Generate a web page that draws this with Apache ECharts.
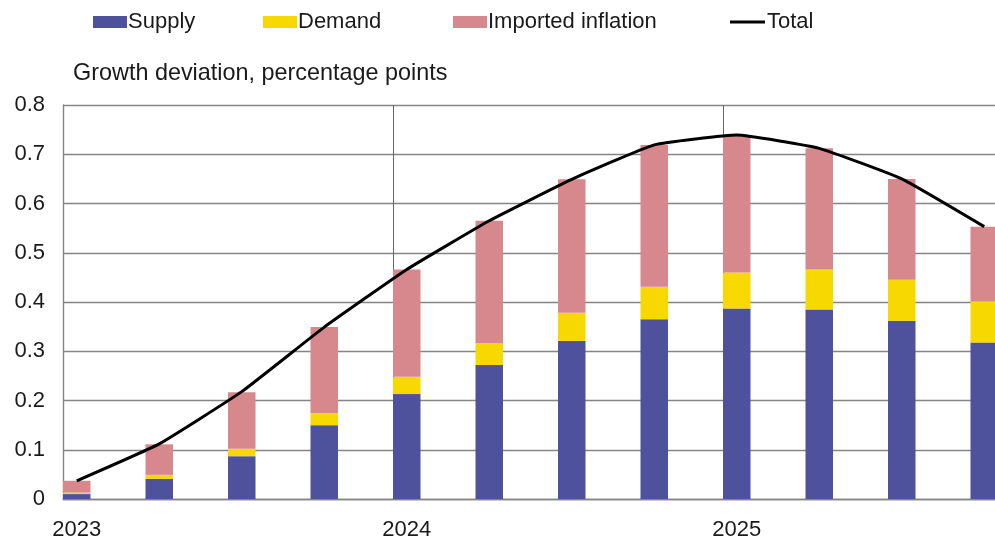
<!DOCTYPE html>
<html>
<head>
<meta charset="utf-8">
<script src="https://cdn.jsdelivr.net/npm/echarts@6/dist/echarts.min.js"></script>
<style>
html,body{margin:0;padding:0;background:#fff;}
#chart{width:995px;height:538px;}
</style>
</head>
<body>
<div id="chart"></div>
<script>
// Quarterly periods 2023Q1 .. 2025Q4
const categories = ['2023Q1','2023Q2','2023Q3','2023Q4','2024Q1','2024Q2','2024Q3','2024Q4','2025Q1','2025Q2','2025Q3','2025Q4'];
const supply   = [0.010, 0.041, 0.087, 0.150, 0.213, 0.272, 0.321, 0.365, 0.387, 0.385, 0.362, 0.318];
const demand   = [0.003, 0.008, 0.015, 0.024, 0.035, 0.045, 0.057, 0.066, 0.073, 0.081, 0.083, 0.083];
const imported = [0.024, 0.062, 0.115, 0.175, 0.218, 0.248, 0.271, 0.288, 0.277, 0.246, 0.205, 0.152];
const total    = [0.037, 0.112, 0.218, 0.349, 0.466, 0.565, 0.649, 0.719, 0.739, 0.712, 0.650, 0.553];
const yearLabels = ['2023', '2024', '2025'];
const yearIndex  = [0, 4, 8];
const yTicks = ['0','0.1','0.2','0.3','0.4','0.5','0.6','0.7','0.8'];

const FONT = '"Liberation Sans", Arial, sans-serif';
const TXT = '#1a1a1a';
const GRIDC = '#858585';

// value first, position second -> stacking happens on the value dimension
const toYX = arr => arr.map((v, i) => [v, i]);

const chart = echarts.init(document.getElementById('chart'), null, {renderer: 'canvas'});
const legendBase = {
  top: 6, itemHeight: 12, itemWidth: 34, selectedMode: false,
  textStyle: {fontSize: 22, color: TXT, fontFamily: FONT, padding: [0,0,0,-4]}
};
const barCommon = {type: 'bar', stack: 'a', barWidth: 27.5, encode: {x: 1, y: 0}};
chart.setOption({
  animation: false,
  textStyle: {fontFamily: FONT},
  title: {
    text: 'Growth deviation, percentage points',
    left: 68, top: 57,
    textStyle: {fontSize: 23.4, fontWeight: 'normal', color: TXT, fontFamily: FONT}
  },
  legend: [
    Object.assign({}, legendBase, {left: 88, data: [{name: 'Supply', icon: 'rect'}]}),
    Object.assign({}, legendBase, {left: 258, data: [{name: 'Demand', icon: 'rect'}]}),
    Object.assign({}, legendBase, {left: 448, data: [{name: 'Imported inflation', icon: 'rect'}]}),
    Object.assign({}, legendBase, {left: 725, itemWidth: 35, itemHeight: 3,
      textStyle: {fontSize: 22, color: TXT, fontFamily: FONT, padding: [0,0,0,-3]},
      data: [{name: 'Total', icon: 'rect', itemStyle: {color: '#000'}}]})
  ],
  grid: {left: 63, top: 105, right: 0, bottom: 39, containLabel: false, outerBoundsMode: 'none'},
  xAxis: {
    type: 'value',
    min: -1/6,
    max: -1/6 + 932/82.5,
    axisLine: {show: true, onZero: false, lineStyle: {color: GRIDC, width: 1.4}},
    axisTick: {show: false, customValues: [23/6, 47/6]},
    splitLine: {show: true, lineStyle: {color: '#666', width: 1}},
    axisLabel: {
      customValues: yearIndex,
      formatter: v => yearLabels[yearIndex.indexOf(Math.round(v))] || '',
      fontSize: 22, color: TXT, margin: 20, fontFamily: FONT
    }
  },
  yAxis: {
    type: 'value', min: 0, max: 0.8, interval: 0.1,
    axisLine: {show: true, onZero: false, lineStyle: {color: GRIDC, width: 1.4}},
    axisTick: {show: false},
    splitLine: {show: true, lineStyle: {color: GRIDC, width: 1.4}},
    axisLabel: {
      formatter: v => yTicks[Math.round(v * 10)],
      fontSize: 22, color: TXT, margin: 18, fontFamily: FONT, padding: [2, 0, 0, 0]
    }
  },
  series: [
    Object.assign({name: 'Supply', data: toYX(supply), itemStyle: {color: '#4e519b'}}, barCommon),
    Object.assign({name: 'Demand', data: toYX(demand), itemStyle: {color: '#f7d800'}}, barCommon),
    Object.assign({name: 'Imported inflation', data: toYX(imported), itemStyle: {color: '#d7888c'}}, barCommon),
    {name: 'Total', type: 'line', data: toYX(total), encode: {x: 1, y: 0}, smooth: 0.12, symbol: 'none', z: 5,
     lineStyle: {color: '#000', width: 3}, itemStyle: {color: '#000'}}
  ]
});
</script>
</body>
</html>
